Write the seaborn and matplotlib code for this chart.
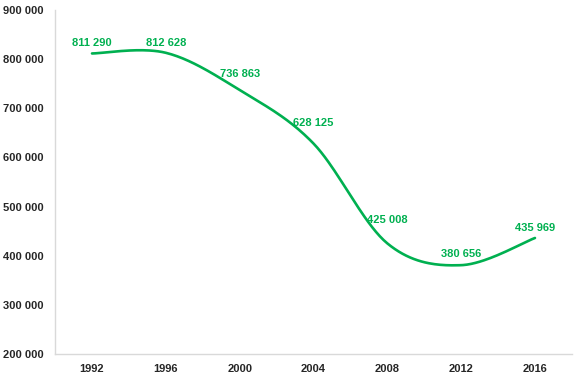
import numpy as np
import pandas as pd
import seaborn as sns
import matplotlib.pyplot as plt
from matplotlib.ticker import FuncFormatter, MultipleLocator

years = ["1992", "1996", "2000", "2004", "2008", "2012", "2016"]
values = [811290, 812628, 736863, 628125, 425008, 380656, 435969]

green = "#00b050"
grey = "#d9d9d9"

sns.set_style("white")
plt.rcParams["font.family"] = ["Liberation Sans", "DejaVu Sans"]
plt.rcParams["font.weight"] = "bold"

# excel-style smoothed line (catmull-rom through the points)
def smooth(x, y, n=40):
    px = np.concatenate([[x[0]], x, [x[-1]]])
    py = np.concatenate([[y[0]], y, [y[-1]]])
    xs, ys = [], []
    t = np.linspace(0, 1, n)
    for i in range(1, len(px) - 2):
        p0, p1, p2, p3 = [np.array([px[j], py[j]], float) for j in (i - 1, i, i + 1, i + 2)]
        c1 = p1 + (p2 - p0) / 6
        c2 = p2 - (p3 - p1) / 6
        b = ((1 - t) ** 3)[:, None] * p1 + (3 * (1 - t) ** 2 * t)[:, None] * c1 \
            + (3 * (1 - t) * t ** 2)[:, None] * c2 + (t ** 3)[:, None] * p2
        xs.extend(b[:, 0]); ys.extend(b[:, 1])
    return np.array(xs), np.array(ys)

pos = np.arange(len(years))
sx, sy = smooth(pos, np.array(values, float))
curve = pd.DataFrame({"x": sx, "y": sy})

fig = plt.figure(figsize=(5.8, 3.79), dpi=100)
ax = fig.add_axes([0.095, 0.066, 0.891, 0.908])

sns.lineplot(data=curve, x="x", y="y", ax=ax, color=green, linewidth=1.9, sort=False, estimator=None)

label_offsets = [5.5, 5.2, 9.4, 12.6, 15, 5.8, 5]
for p, v, off in zip(pos, values, label_offsets):
    ax.annotate(f"{v:,}".replace(",", " "), (p, v), xytext=(0, off), textcoords="offset points",
                ha="center", va="baseline", color=green, fontsize=8, fontweight="bold")

ax.set_xlim(-0.5, len(years) - 0.5)
ax.set_ylim(200000, 900000)
ax.yaxis.set_major_locator(MultipleLocator(100000))
ax.yaxis.set_major_formatter(FuncFormatter(lambda v, _: f"{int(v):,}".replace(",", " ")))
ax.set_xticks(pos)
ax.set_xticklabels(years)
ax.set_xticks(np.arange(-0.5, len(years)), minor=True)
ax.tick_params(axis="x", which="major", length=0, pad=7, labelsize=8)
ax.tick_params(axis="x", which="minor", length=4, color=grey, direction="out")
ax.tick_params(axis="y", length=4, color=grey, direction="out", pad=4, labelsize=8)
for lab in ax.get_xticklabels() + ax.get_yticklabels():
    lab.set_fontweight("bold")

ax.set_xlabel("")
ax.set_ylabel("")
for s in ["top", "right"]:
    ax.spines[s].set_visible(False)
for s in ["left", "bottom"]:
    ax.spines[s].set_color(grey)
    ax.spines[s].set_linewidth(1)

fig.savefig("out.png", dpi=100)
